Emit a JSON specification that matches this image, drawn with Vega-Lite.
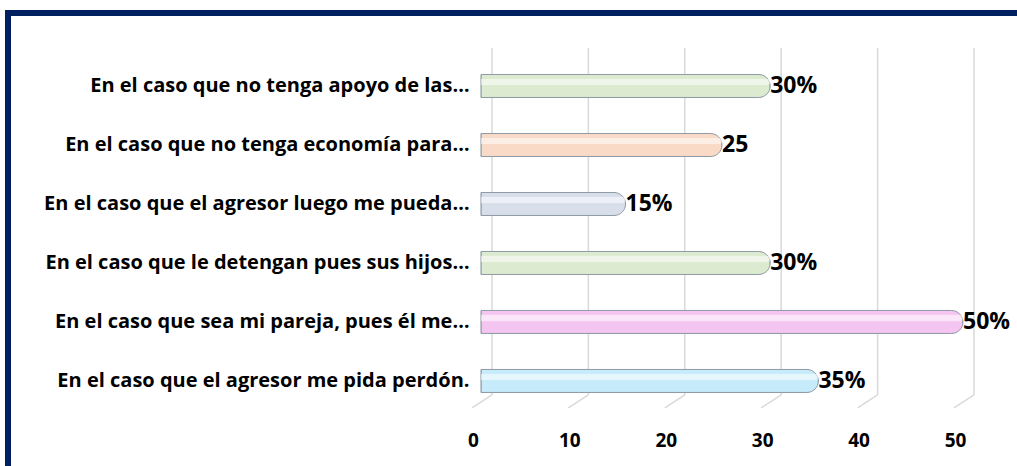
{
  "$schema": "https://vega.github.io/schema/vega-lite/v6.json",
  "width": 1017,
  "height": 466,
  "autosize": {"type": "fit", "contains": "padding"},
  "padding": {"left": 8, "top": 13, "right": -10, "bottom": -10},
  "background": "white",
  "config": {
    "view": {"stroke": "#002060", "strokeWidth": 6, "fill": "white"},
    "font": "Open Sans"
  },
  "datasets": {
    "bars": [
      {"caso": "En el caso que no tenga apoyo de las…", "valor": 30, "etiqueta": "30%"},
      {"caso": "En el caso que no tenga economía para…", "valor": 25, "etiqueta": "25"},
      {"caso": "En el caso que el agresor luego me pueda…", "valor": 15, "etiqueta": "15%"},
      {"caso": "En el caso que le detengan pues sus hijos…", "valor": 30, "etiqueta": "30%"},
      {"caso": "En el caso que sea mi pareja, pues él me…", "valor": 50, "etiqueta": "50%"},
      {"caso": "En el caso que el agresor me pida perdón.", "valor": 35, "etiqueta": "35%"}
    ],
    "ticks": [{"t": 0}, {"t": 10}, {"t": 20}, {"t": 30}, {"t": 40}, {"t": 50}]
  },
  "encoding": {
    "y": {
      "field": "caso",
      "type": "nominal",
      "sort": null,
      "scale": {
        "domain": [
          "En el caso que no tenga apoyo de las…",
          "En el caso que no tenga economía para…",
          "En el caso que el agresor luego me pueda…",
          "En el caso que le detengan pues sus hijos…",
          "En el caso que sea mi pareja, pues él me…",
          "En el caso que el agresor me pida perdón."
        ],
        "paddingInner": 0, "paddingOuter": 0.924, "align": 0.399
      },
      "axis": {
        "title": null,
        "domain": false,
        "ticks": false,
        "tickSize": 0,
        "grid": false,
        "offset": -468,
        "labelPadding": 7,
        "labelFont": "Open Sans",
        "labelFontSize": 20,
        "labelFontWeight": "bold",
        "labelColor": "#000000",
        "labelLimit": 600
      }
    }
  },
  "layer": [
    {
      "data": {"name": "ticks"},
      "mark": {"type": "rule", "color": "#d9d9d9", "strokeWidth": 1.5, "xOffset": 11, "y2Offset": 14},
      "encoding": {
        "x": {"field": "t", "type": "quantitative"},
        "y": {"datum": "En el caso que no tenga apoyo de las…", "bandPosition": -0.144},
        "y2": {"datum": "En el caso que el agresor me pida perdón."}
      }
    },
    {
      "data": {"name": "ticks"},
      "mark": {"type": "rule", "color": "#d9d9d9", "strokeWidth": 1.5, "xOffset": 11, "x2Offset": -9, "yOffset": 14, "y2Offset": 27},
      "encoding": {
        "x": {"field": "t", "type": "quantitative"},
        "x2": {"field": "t"},
        "y": {"datum": "En el caso que el agresor me pida perdón."},
        "y2": {"datum": "En el caso que el agresor me pida perdón."}
      }
    },
    {
      "data": {"name": "bars"},
      "mark": {"type": "bar", "height": 23, "cornerRadiusEnd": 11.5, "stroke": "#8e9aa6", "strokeWidth": 1},
      "encoding": {
        "x": {
          "field": "valor",
          "type": "quantitative",
          "scale": {"domain": [-49.06, 56.64], "nice": false, "zero": false},
          "axis": {
            "values": [0, 10, 20, 30, 40, 50],
            "title": null,
            "domain": false,
            "ticks": false,
            "tickSize": 0,
            "grid": false,
            "offset": -49,
            "labelPadding": 4,
            "labelOffset": -8,
            "labelFont": "Open Sans",
            "labelFontSize": 19,
            "labelFontWeight": "bold",
            "labelColor": "#000000"
          }
        },
        "color": {
          "field": "caso",
          "type": "nominal",
          "legend": null,
          "scale": {
            "domain": [
              "En el caso que no tenga apoyo de las…",
              "En el caso que no tenga economía para…",
              "En el caso que el agresor luego me pueda…",
              "En el caso que le detengan pues sus hijos…",
              "En el caso que sea mi pareja, pues él me…",
              "En el caso que el agresor me pida perdón."
            ],
            "range": ["#dcebcf", "#f8dac6", "#d8deea", "#dcebcf", "#f5c5f1", "#c6ebfa"]
          }
        }
      }
    },
    {
      "data": {"name": "bars"},
      "mark": {"type": "bar", "height": 7, "yOffset": -4, "cornerRadiusEnd": 4, "color": "white", "opacity": 0.55},
      "encoding": {
        "x": {"field": "valor", "type": "quantitative"}
      }
    },
    {
      "data": {"name": "bars"},
      "mark": {"type": "text", "align": "left", "baseline": "middle", "dx": 0, "font": "Open Sans", "fontSize": 23, "fontWeight": "bold", "color": "#000000"},
      "encoding": {
        "x": {"field": "valor", "type": "quantitative"},
        "text": {"field": "etiqueta"}
      }
    }
  ]
}
